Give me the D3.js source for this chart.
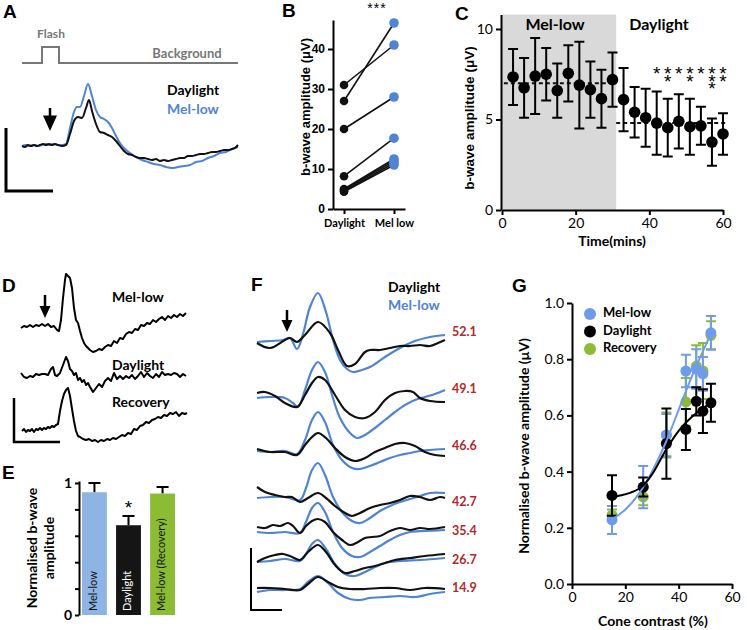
<!DOCTYPE html>
<html><head><meta charset="utf-8">
<script src="https://cdn.jsdelivr.net/npm/d3@7"></script>
<style>body{margin:0;background:#fff}</style></head>
<body><svg id="c" width="747" height="630"></svg>
<script>
// ---------------- DATA ----------------
// Panel A: stimulus (time ms, on/off) and averaged ERG traces (time ms, µV)
const stimA = [[0,0],[20,0],[20,1],[37,1],[37,0],[216,0]];
const traceA_mel = [[0,0],[4,1],[8,0],[12,1],[16,0],[20,1],[24,2],[28,1],[32,2],[36,1],[40,1],[44,2],[48,18],[52,34],[55,39],[58,39],[62,50],[66,62],[70,50],[74,36],[78,29],[82,27],[86,24],[90,18],[94,10],[98,3],[102,-2],[108,-7],[114,-11],[120,-14],[126,-16],[132,-18],[138,-19],[144,-21],[150,-22],[156,-21],[162,-20],[168,-19],[174,-16],[180,-15],[186,-12],[192,-10],[198,-7],[204,-6],[210,-3],[216,-1]];
const traceA_day = [[0,0],[3,-1],[6,1],[9,0],[12,1],[15,0],[18,1],[21,2],[24,1],[27,2],[30,1],[33,2],[36,1],[40,0],[44,1],[48,12],[52,25],[56,29],[60,28],[64,38],[67,46],[70,35],[74,22],[78,14],[82,13],[86,11],[90,9],[94,5],[98,0],[102,-5],[106,-8],[110,-9],[114,-11],[118,-12],[122,-12],[126,-13],[130,-14],[134,-13],[138,-15],[142,-14],[146,-15],[150,-14],[154,-13],[158,-12],[162,-12],[166,-10],[170,-10],[174,-9],[178,-8],[182,-8],[186,-7],[190,-6],[194,-6],[198,-5],[202,-4],[206,-4],[210,-3],[213,-2],[216,1]];

// Panel B: b-wave amplitude (µV), paired
const bDaylight = [31, 27, 20, 8.2, 5.0, 4.8, 4.5, 4.3];
const bMelLow   = [41, 46.5, 28, 17.7, 12.5, 12.0, 11.5, 11.0];
const bCats = ["Daylight", "Mel low"];
const bTicks = [0, 10, 20, 30, 40];

// Panel C: time course
const cTime = [3,6,9,12,15,18,21,24,27,30,33,36,39,42,45,48,51,54,57,60];
const cMean = [7.35,6.75,7.4,7.5,6.6,7.55,6.9,6.65,6.15,7.2,6.1,5.4,5.1,4.8,4.55,4.9,4.6,4.65,3.75,4.2];
const cErr  = [1.55,1.65,2.1,1.45,1.5,1.55,2.4,1.55,1.6,1.5,1.75,1.4,1.6,1.75,1.6,1.5,1.55,1.05,1.3,1.15];
const cStars = [[42,1],[45,2],[48,1],[51,2],[54,1],[57,3],[60,2]];
const cMeans = [{from:0.5,to:31,v:7.0},{from:31,to:61,v:4.8}];
const cShade = [0, 31];
const cXTicks = [0,20,40,60], cYTicks = [0,5,10];

// Panel D: single traces (time ms, µV)
const traceD_mel = [[0,0],[3,2],[6,1],[9,3],[12,1],[15,3],[18,2],[21,4],[24,2],[27,4],[30,1],[33,2],[36,-2],[38,-3],[40,8],[42,30],[44,48],[45,54],[47,52],[49,50],[51,40],[53,20],[55,8],[57,5],[59,-3],[61,-10],[63,-15],[65,-18],[67,-20],[69,-22],[72,-24],[75,-23],[78,-21],[81,-22],[84,-19],[87,-17],[90,-18],[93,-13],[96,-15],[99,-10],[102,-11],[105,-6],[108,-4],[111,-5],[114,-1],[117,-2],[120,3],[123,2],[126,5],[129,4],[132,8],[135,6],[138,9],[141,11],[144,8],[147,12],[150,10],[153,13],[156,11],[159,14],[162,12],[165,15]];
const traceD_day = [[0,2],[3,-2],[6,-3],[9,-1],[12,-2],[15,1],[18,0],[21,1],[24,1],[27,0],[30,6],[32,8],[34,0],[36,-1],[39,2],[42,10],[45,18],[47,14],[49,6],[51,4],[53,0],[55,2],[57,-5],[59,-3],[61,-7],[63,-5],[65,-10],[67,-8],[69,-12],[72,-17],[75,-13],[78,-9],[81,-12],[84,-6],[87,-3],[90,-6],[93,2],[96,-4],[99,-1],[102,-4],[105,-1],[108,-3],[111,0],[114,-4],[117,-1],[120,3],[123,-2],[126,2],[129,-1],[132,-3],[135,1],[138,-2],[141,3],[144,0],[147,1],[150,0],[153,2],[156,1],[159,-2],[162,1],[165,-1]];
const traceD_rec = [[1,0],[3,2],[5,-1],[7,1],[9,0],[11,2],[13,-1],[15,2],[17,1],[19,3],[21,1],[23,3],[25,2],[27,4],[29,3],[31,5],[33,4],[35,6],[37,7],[39,20],[41,30],[43,37],[45,41],[47,43],[49,35],[51,22],[53,10],[55,0],[57,-5],[59,-6],[62,-8],[65,-9],[68,-8],[71,-10],[74,-9],[77,-11],[80,-9],[83,-10],[86,-8],[89,-9],[92,-7],[95,-8],[98,-6],[101,-4],[104,-5],[107,-2],[110,-3],[113,2],[116,1],[119,5],[122,6],[125,9],[128,8],[131,11],[134,12],[137,14],[140,13],[143,16],[146,15],[149,18],[152,17],[155,19],[158,15],[161,18],[164,17],[166,18]];
const dLabels = ["Mel-low", "Daylight", "Recovery"];

// Panel E: normalised b-wave amplitude
const eCats = ["Mel-low", "Daylight", "Mel-low (Recovery)"];
const eVals = [0.93, 0.68, 0.92];
const eErr  = [0.07, 0.07, 0.05];
const eTicks = [0, 0.2, 0.4, 0.6, 0.8, 1];

// Panel F: cone contrast series (time ms, µV)
const fContrast = ["52.1","49.1","46.6","42.7","35.4","26.7","14.9"];
const fMel = [
 [[0,0],[13,1],[26,2],[33,4],[40,-7],[46,8],[53,35],[61,49],[69,30],[76,2],[83,-18],[90,-27],[96,-30],[105,-28],[115,-24],[128,-15],[143,-6],[158,1],[173,5],[188,7]],
 [[0,-3],[13,-2],[28,-3],[36,-8],[41,-12],[48,5],[55,25],[61,33],[68,23],[75,0],[83,-23],[93,-38],[100,-43],[108,-40],[118,-33],[128,-25],[138,-17],[148,-10],[158,-5],[168,-2],[178,1],[188,5]],
 [[0,-1],[13,-2],[28,-1],[40,-4],[48,10],[55,30],[61,38],[68,28],[76,5],[85,-10],[95,-18],[103,-19],[113,-16],[123,-12],[133,-8],[143,-5],[153,-3],[163,-1],[173,0],[188,1]],
 [[0,0],[13,1],[28,1],[43,-2],[49,10],[55,28],[61,35],[68,23],[76,1],[85,-14],[95,-23],[103,-25],[113,-20],[123,-13],[133,-8],[143,-4],[153,-1],[163,2],[173,5],[188,5]],
 [[0,-2],[13,-3],[28,-2],[43,-3],[49,8],[55,22],[61,27],[68,18],[76,-2],[85,-18],[95,-26],[103,-27],[113,-22],[123,-16],[133,-10],[143,-5],[153,-2],[168,-1],[188,0]],
 [[0,0],[13,1],[28,3],[43,1],[49,8],[55,18],[61,22],[69,13],[78,-2],[88,-12],[98,-14],[108,-10],[118,-5],[128,-1],[143,1],[163,2],[188,4]],
 [[0,-3],[13,-1],[28,-1],[43,0],[51,7],[61,13],[71,6],[81,-4],[93,-10],[103,-11],[113,-9],[128,-8],[143,-7],[158,-8],[173,-5],[188,-3]]
];
const fDay = [
 [[0,-1],[13,-6],[28,2],[33,4],[40,0],[48,7],[61,20],[73,9],[81,-8],[90,-24],[98,-22],[108,-10],[113,-8],[123,-8],[133,-6],[143,-4],[153,-4],[163,-3],[173,-4],[181,-1],[188,2]],
 [[0,2],[8,3],[18,-1],[28,-8],[40,-12],[48,0],[55,12],[61,18],[68,15],[78,0],[88,-15],[98,-22],[108,-23],[118,-17],[128,-5],[138,2],[148,4],[156,3],[163,-3],[173,-6],[188,-7]],
 [[0,1],[13,-2],[28,-2],[40,-5],[48,5],[55,13],[61,17],[69,12],[78,2],[88,-7],[98,-11],[108,-8],[118,-2],[128,2],[138,6],[148,7],[158,4],[168,-2],[178,-5],[188,-6]],
 [[0,11],[8,6],[18,3],[28,1],[35,1],[43,-4],[51,0],[61,5],[69,0],[78,-8],[88,-15],[95,-18],[103,-15],[113,-10],[123,-7],[133,-5],[143,-2],[153,2],[163,1],[173,-2],[183,1],[188,0]],
 [[0,3],[8,2],[16,5],[23,4],[31,7],[36,4],[43,-3],[49,4],[55,9],[61,11],[68,8],[76,-2],[85,-10],[93,-15],[101,-12],[108,-8],[115,-7],[123,-6],[133,-1],[143,2],[153,0],[163,2],[173,1],[188,3]],
 [[0,0],[8,4],[18,7],[26,8],[33,6],[43,2],[51,10],[61,17],[69,10],[78,-3],[88,-11],[98,-9],[108,-6],[118,-4],[128,-1],[138,2],[153,4],[168,6],[188,8]],
 [[0,1],[13,1],[28,0],[43,-1],[51,5],[61,12],[71,7],[81,2],[93,0],[108,0],[123,1],[138,1],[153,-1],[168,1],[188,0]]
];

// Panel G: contrast response
const gX = [15, 26.7, 35.4, 42.7, 46.6, 49.1, 52.1];
const gMel = [0.228, 0.345, 0.53, 0.758, 0.765, 0.748, 0.894];
const gMelErr = [0.05, 0.075, 0.075, 0.058, 0.07, 0.06, 0.06];
const gDay = [0.315, 0.345, 0.50, 0.55, 0.65, 0.615, 0.645];
const gDayErr = [0.072, 0.034, 0.125, 0.073, 0.05, 0.078, 0.068];
const gRec = [0.245, 0.31, 0.53, 0.648, 0.775, 0.758, 0.885];
const gRecErr = [0.02, 0.03, 0.08, 0.085, 0.075, 0.1, 0.05];
const gFitMel = [[15,0.23],[20,0.265],[25,0.32],[30,0.40],[35,0.50],[40,0.62],[45,0.74],[52.1,0.89]];
const gFitDay = [[15,0.31],[18,0.315],[22,0.325],[26.7,0.35],[30,0.39],[35.4,0.48],[40,0.545],[45,0.595],[52.1,0.645]];
const gXTicks = [0,20,40,60], gYTicks = [0,0.2,0.4,0.6,0.8,1.0];
const gLegend = ["Mel-low","Daylight","Recovery"];

// ---------------- STYLE ----------------
const CAL = "Lato, 'Open Sans', sans-serif";
const ARI = "'Liberation Sans', Arial, sans-serif";
const BLUE = "#4f84d3", BLUE_G = "#6e9ceb", GREEN = "#8cbc34", RED = "#b02a2a", GREY = "#777";

const svg = d3.select('#c');
svg.append('rect').attr('width',747).attr('height',630).attr('fill','#fff');

function letter(t,x,y){ svg.append('text').attr('x',x).attr('y',y).text(t)
  .attr('font-family',ARI).attr('font-weight','bold').attr('font-size',19); }
function txt(g,t,x,y,o){ o=o||{}; const e=g.append('text').attr('x',x).attr('y',y).text(t)
  .attr('font-family',o.ff||CAL).attr('font-weight',o.fw||'bold').attr('font-size',o.fs||13)
  .attr('fill',o.fill||'#000').attr('text-anchor',o.anchor||'start').attr('dominant-baseline',o.db||'middle');
  if(o.rot) e.attr('transform',`rotate(${o.rot},${x},${y})`); return e; }
function styleAxis(g,ff,fs,fw){
  g.select('.domain').attr('stroke','#000').attr('stroke-width',2);
  g.selectAll('.tick line').attr('stroke','#000').attr('stroke-width',2);
  g.selectAll('.tick text').attr('font-family',ff).attr('font-size',fs).attr('font-weight',fw).attr('fill','#000');
}
function arrow(x,y0,y1,hw){ // shaft y0 -> tip y1
  const hh=hw*1.1;
  svg.append('line').attr('x1',x).attr('x2',x).attr('y1',y0).attr('y2',y1-hh+1).attr('stroke','#000').attr('stroke-width',2.5);
  svg.append('path').attr('d',`M${x-hw/2},${y1-hh}L${x+hw/2},${y1-hh}L${x},${y1}Z`).attr('fill','#000');
}
function scaleBar(x,yTop,yBot,xRight,w){
  svg.append('path').attr('d',`M${x},${yTop}V${yBot}H${xRight}`).attr('fill','none').attr('stroke','#000').attr('stroke-width',w||2.5);
}

// ---------------- PANEL A ----------------
letter('A',3,18);
{
  const x = d3.scaleLinear().domain([0,216]).range([22,238]);
  const ys = d3.scaleLinear().domain([0,1]).range([63,47]);
  svg.append('path').datum(stimA).attr('fill','none').attr('stroke',GREY).attr('stroke-width',2)
    .attr('d',d3.line().x(d=>x(d[0])).y(d=>ys(d[1])));
  txt(svg,'Flash',51,35,{fill:GREY,fs:12,anchor:'middle'});
  txt(svg,'Background',187,55,{fill:GREY,fs:13,anchor:'middle'});
  const y = d3.scaleLinear().domain([-30,70]).range([176,76]);
  const ln = d3.line().x(d=>x(d[0])).y(d=>y(d[1])).curve(d3.curveMonotoneX);
  svg.append('path').datum(traceA_mel).attr('fill','none').attr('stroke',BLUE).attr('stroke-width',2).attr('d',ln);
  svg.append('path').datum(traceA_day).attr('fill','none').attr('stroke','#111').attr('stroke-width',2).attr('d',ln);
  txt(svg,'Daylight',167,91,{fs:14});
  txt(svg,'Mel-low',167,110,{fs:14,fill:BLUE});
  arrow(50,108,131,14);
  scaleBar(6,128,191,53,3);
}

// ---------------- PANEL B ----------------
letter('B',282,17);
{
  const y = d3.scaleLinear().domain([0,47.25]).range([209,20]);
  const x = d3.scalePoint().domain(bCats).range([333,405]).padding(0.22);
  const ga = svg.append('g').attr('transform','translate(333,0)')
    .call(d3.axisLeft(y).tickValues(bTicks).tickSize(5).tickSizeOuter(0));
  styleAxis(ga,ARI,12,'bold');
  const gb = svg.append('g').attr('transform','translate(0,209)')
    .call(d3.axisBottom(x).tickSize(5).tickSizeOuter(0));
  styleAxis(gb,CAL,11,'bold');
  gb.selectAll('.tick text').attr('dy','0.9em');
  txt(svg,'b-wave amplitude (μV)',307,107,{ff:ARI,fs:13,anchor:'middle',rot:-90});
  bDaylight.forEach((d,i)=>{
    svg.append('line').attr('x1',x(bCats[0])).attr('x2',x(bCats[1])).attr('y1',y(d)).attr('y2',y(bMelLow[i]))
      .attr('stroke','#111').attr('stroke-width',1.6);
  });
  bDaylight.forEach(d=>svg.append('circle').attr('cx',x(bCats[0])).attr('cy',y(d)).attr('r',4.3).attr('fill','#111'));
  bMelLow.forEach(d=>svg.append('circle').attr('cx',x(bCats[1])).attr('cy',y(d)).attr('r',4.8).attr('fill',BLUE));
  txt(svg,'***',377,9,{ff:ARI,fs:14,fw:'normal',anchor:'middle',db:'hanging'}).attr('y',3).attr('letter-spacing',1);
}

// ---------------- PANEL C ----------------
letter('C',455,20);
{
  const x = d3.scaleLinear().domain([0,60]).range([502,723]);
  const y = d3.scaleLinear().domain([0,10.8]).range([210,14.5]);
  svg.append('rect').attr('x',x(cShade[0])).attr('y',y(10.8)).attr('width',x(cShade[1])-x(cShade[0])).attr('height',y(0)-y(10.8)).attr('fill','#d9d9d9');
  txt(svg,'Mel-low',555,26,{fs:16,anchor:'middle'});
  txt(svg,'Daylight',659,26,{fs:16,anchor:'middle'});
  cMeans.forEach(m=>svg.append('line').attr('x1',x(m.from)).attr('x2',x(m.to)).attr('y1',y(m.v)).attr('y2',y(m.v))
    .attr('stroke','#111').attr('stroke-width',2).attr('stroke-dasharray','4,3'));
  cTime.forEach((t,i)=>{
    const cx=x(t), lo=y(cMean[i]-cErr[i]), hi=y(cMean[i]+cErr[i]);
    svg.append('path').attr('d',`M${cx},${lo}V${hi}M${cx-5},${lo}H${cx+5}M${cx-5},${hi}H${cx+5}`).attr('stroke','#000').attr('stroke-width',2).attr('fill','none');
    svg.append('circle').attr('cx',cx).attr('cy',y(cMean[i])).attr('r',5.8).attr('fill','#000');
  });
  cStars.forEach(([t,n])=>{
    const te = svg.append('text').attr('font-family',ARI).attr('font-size',19).attr('text-anchor','middle');
    for(let k=0;k<n;k++) te.append('tspan').attr('x',x(t)).attr('y',72+k*7.7+8).text('*');
  });
  const ga = svg.append('g').attr('transform','translate(501,0)').call(d3.axisLeft(y).tickValues(cYTicks).tickSize(5).tickSizeOuter(0));
  styleAxis(ga,CAL,14,'normal');
  const gb = svg.append('g').attr('transform','translate(0,210)').call(d3.axisBottom(x).tickValues(cXTicks).tickSize(5).tickSizeOuter(0));
  styleAxis(gb,CAL,14,'normal');
  txt(svg,'b-wave amplitude (μV)',470,118,{ff:ARI,fs:13.5,anchor:'middle',rot:-90});
  txt(svg,'Time(mins)',612,242,{fs:14,anchor:'middle'});
}

// ---------------- PANEL D ----------------
letter('D',2,292);
{
  const x = d3.scaleLinear().domain([0,166]).range([21,187]);
  const bases = [328,375,431];
  [traceD_mel,traceD_day,traceD_rec].forEach((tr,i)=>{
    const y = d3.scaleLinear().domain([0,1]).range([bases[i],bases[i]-1]);
    svg.append('path').datum(tr).attr('fill','none').attr('stroke','#000').attr('stroke-width',2).attr('stroke-linejoin','round')
      .attr('d',d3.line().x(d=>x(d[0])).y(d=>y(d[1])));
  });
  const ly=[298,366,403];
  dLabels.forEach((l,i)=>txt(svg,l,112,ly[i],{fs:14}));
  arrow(45,295,318,11);
  scaleBar(14,398,442,60,2.5);
}

// ---------------- PANEL E ----------------
letter('E',2,479);
{
  const y = d3.scaleLinear().domain([0,1.015]).range([615,481]);
  const x = d3.scaleBand().domain(eCats).range([82,175]).paddingInner(0.27);
  const cols=['#8db4e4','#151515',GREEN], tcol=['#111','#fff','#111'];
  eCats.forEach((c,i)=>{
    const bx=x(c), bw=x.bandwidth(), cx=bx+bw/2;
    const top=y(eVals[i]), et=y(eVals[i]+eErr[i]);
    svg.append('path').attr('d',`M${cx},${top}V${et}M${cx-6},${et}H${cx+6}`).attr('stroke','#000').attr('stroke-width',2).attr('fill','none');
    svg.append('rect').attr('x',bx).attr('y',top).attr('width',bw).attr('height',y(0)-top).attr('fill',cols[i]);
    txt(svg,c,cx,611,{fs:11,fw:'normal',fill:tcol[i],rot:-90});
  });
  txt(svg,'*',x('Daylight')+x.bandwidth()/2,514,{ff:ARI,fs:19,fw:'normal',anchor:'middle',db:'auto'});
  const ga = svg.append('g').attr('transform','translate(79,0)').call(d3.axisLeft(y).tickValues(eTicks).tickSize(4).tickSizeOuter(0).tickFormat(d=>(d===0||d===1)?d:''));
  styleAxis(ga,CAL,14,'bold');
  txt(svg,'Normalised b-wave',33,548,{fs:14,anchor:'middle',rot:-90});
  txt(svg,'amplitude',50,548,{fs:14,anchor:'middle',rot:-90});
}

// ---------------- PANEL F ----------------
letter('F',251,291);
{
  const x = d3.scaleLinear().domain([0,188]).range([257,445]);
  const bases = [342,395,450,498,530,562,589];
  const labY = [333,390,447,503,532,561,589];
  fMel.forEach((tr,i)=>{
    const y = d3.scaleLinear().domain([0,1]).range([bases[i],bases[i]-1]);
    const ln = d3.line().x(d=>x(d[0])).y(d=>y(d[1])).curve(d3.curveCatmullRom.alpha(0.5));
    svg.append('path').datum(tr).attr('fill','none').attr('stroke',BLUE).attr('stroke-width',2.2).attr('d',ln);
    svg.append('path').datum(fDay[i]).attr('fill','none').attr('stroke','#111').attr('stroke-width',2.2).attr('d',ln);
    txt(svg,fContrast[i],452,labY[i],{fs:12.5,fill:RED});
  });
  txt(svg,'Daylight',388,288,{fs:14});
  txt(svg,'Mel-low',388,306,{fs:14,fill:BLUE});
  arrow(287,310,332,11);
  scaleBar(251,548,610,282,2);
}

// ---------------- PANEL G ----------------
letter('G',512,292);
{
  const x = d3.scaleLinear().domain([0,60]).range([572,732]);
  const y = d3.scaleLinear().domain([0,1]).range([584,303]);
  function series(vals,errs,col){
    gX.forEach((gx,i)=>{
      const cx=x(gx), lo=y(vals[i]-errs[i]), hi=y(vals[i]+errs[i]);
      svg.append('path').attr('d',`M${cx},${lo}V${hi}M${cx-5},${lo}H${cx+5}M${cx-5},${hi}H${cx+5}`).attr('stroke',col).attr('stroke-width',2).attr('fill','none');
    });
    gX.forEach((gx,i)=>svg.append('circle').attr('cx',x(gx)).attr('cy',y(vals[i])).attr('r',5.5).attr('fill',col));
  }
  series(gRec,gRecErr,GREEN);
  series(gMel,gMelErr,BLUE_G);
  series(gDay,gDayErr,'#000');
  const ln = d3.line().x(d=>x(d[0])).y(d=>y(d[1])).curve(d3.curveMonotoneX);
  svg.append('path').datum(gFitMel).attr('fill','none').attr('stroke',BLUE_G).attr('stroke-width',2).attr('d',ln);
  svg.append('path').datum(gFitDay).attr('fill','none').attr('stroke','#000').attr('stroke-width',2).attr('d',ln);
  const ga = svg.append('g').attr('transform','translate(572,0)').call(d3.axisLeft(y).tickValues(gYTicks).tickSize(5).tickSizeOuter(0).tickFormat(d3.format('.1f')));
  styleAxis(ga,CAL,14,'normal');
  const gb = svg.append('g').attr('transform','translate(0,584)').call(d3.axisBottom(x).tickValues(gXTicks).tickSize(5).tickSizeOuter(0));
  styleAxis(gb,CAL,14,'normal');
  const lc=[BLUE_G,'#000',GREEN];
  gLegend.forEach((l,i)=>{
    svg.append('circle').attr('cx',590).attr('cy',314+i*17.5).attr('r',6).attr('fill',lc[i]);
    txt(svg,l,603,314+i*17.5,{fs:13});
  });
  txt(svg,'Normalised b-wave amplitude (μV)',525,446,{fs:14,anchor:'middle',rot:-90});
  txt(svg,'Cone contrast (%)',653,622,{fs:14,anchor:'middle'});
}
</script></body></html>
